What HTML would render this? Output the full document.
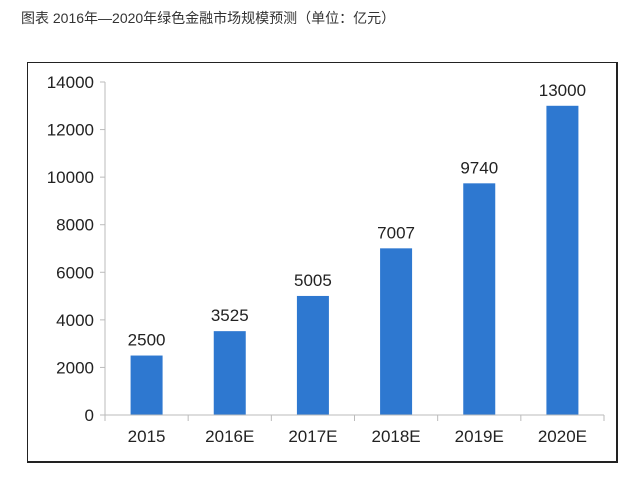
<!DOCTYPE html>
<html><head><meta charset="utf-8"><style>
body{margin:0;background:#fff;width:644px;height:482px;overflow:hidden;font-family:"Liberation Sans","Noto Sans CJK SC",sans-serif}
#title{position:absolute;left:21px;top:8px;font-size:14px;color:#333}
#box{position:absolute;left:27px;top:62px;width:588px;height:398px;border:1.5px solid #222;border-right-width:2px;border-bottom-width:2px}
svg{position:absolute;left:0;top:0}
</style></head><body>
<div id="title">图表 2016年—2020年绿色金融市场规模预测（单位：亿元）</div>
<div id="box"></div>
<svg id="chart" width="644" height="482"></svg>
<script>
const categories=["2015","2016E","2017E","2018E","2019E","2020E"];
const values=[2500,3525,5005,7007,9740,13000];
const yTicks=[0,2000,4000,6000,8000,10000,12000,14000];
const NS="http://www.w3.org/2000/svg";
const svg=document.getElementById('chart');
const x0=105,x1=604,y0=415,y1=82,yMax=14000;
const band=(x1-x0)/categories.length;
const y=v=>y0-(v/yMax)*(y0-y1);
const xc=i=>x0+band*(i+0.5);
function mk(t,a){const e=document.createElementNS(NS,t);for(const k in a)e.setAttribute(k,a[k]);svg.appendChild(e);return e;}
const ya=mk('line',{x1:x0,y1:y1,x2:x0,y2:y0,stroke:'#bbb','stroke-width':1});


yTicks.forEach(t=>{
 const l=mk('line',{x1:x0-5,y1:y(t),x2:x0,y2:y(t),stroke:'#bbb'});
 
 
 const tx=mk('text',{x:x0-11,y:y(t)+6,'text-anchor':'end','font-size':17,fill:'#222'});
 tx.textContent=t;
 
 
});
categories.forEach((c,i)=>{
 const v=values[i],w=32;
 const r=mk('rect',{x:xc(i)-w/2,y:y(v),width:w,height:y0-y(v),fill:'#2e78d0'});
 
 
 const vl=mk('text',{x:xc(i),y:y(v)-10,'text-anchor':'middle','font-size':17,fill:'#222'});
 vl.textContent=v;
 
 
 const cl=mk('text',{x:xc(i),y:y0+27,'text-anchor':'middle','font-size':17,fill:'#222'});
 cl.textContent=c;
 
 
});
for(let i=0;i<=categories.length;i++){
 const t=mk('line',{x1:x0+band*i,y1:y0,x2:x0+band*i,y2:y0+6,stroke:'#bbb'});
 
 
}
const xa=mk('line',{x1:x0-5,y1:y0,x2:x1,y2:y0,stroke:'#bbb','stroke-width':1});


</script>
</body></html>
